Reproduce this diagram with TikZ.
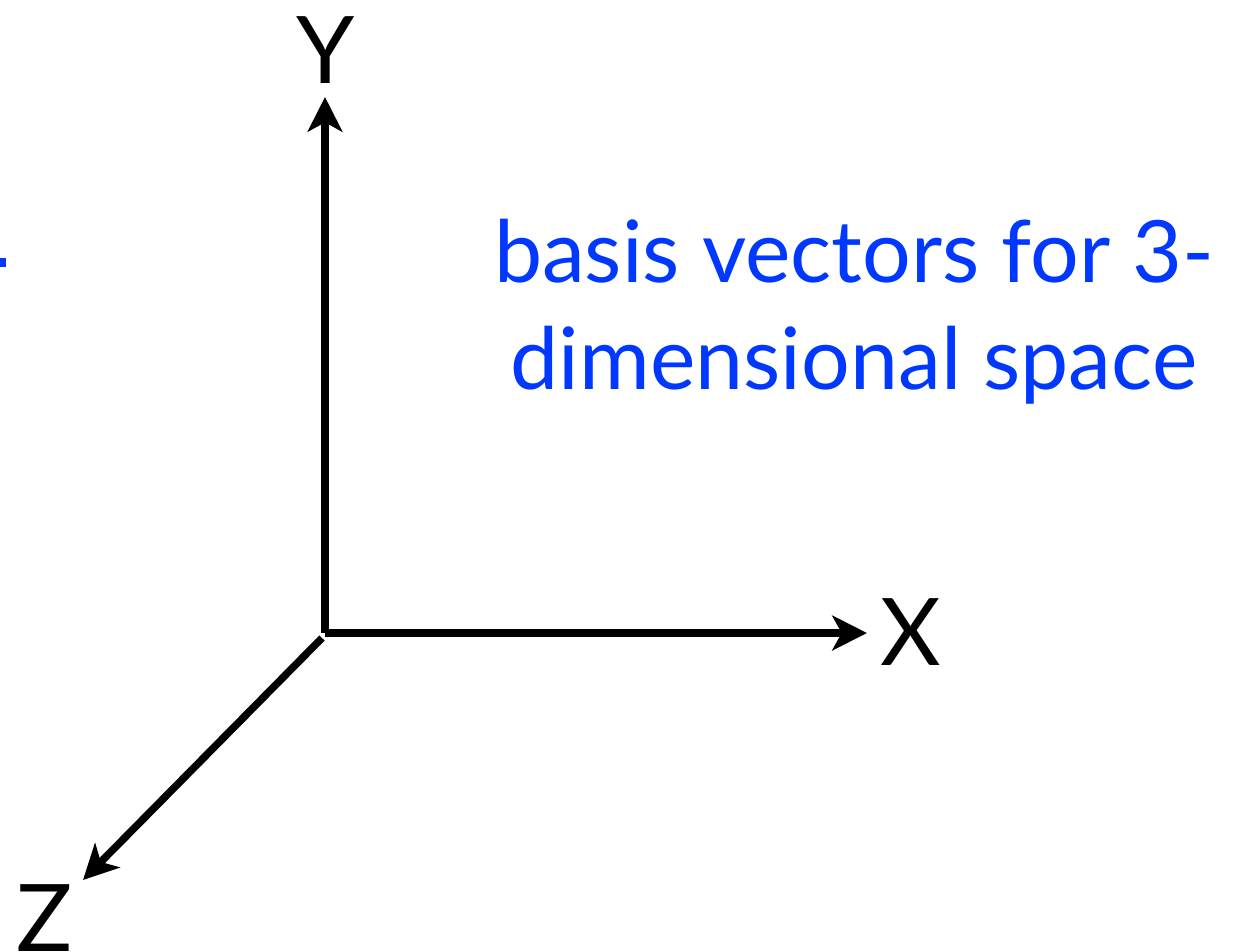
\documentclass[tikz,border=0pt]{standalone}
\usepackage{fontspec}
\setmainfont{Lato}
\usetikzlibrary{arrows.meta}
\definecolor{basisblue}{RGB}{0,56,255}
\begin{document}
\begin{tikzpicture}[x=0.75pt,y=-0.75pt,
  axis/.style={line width=5.6pt,-{Stealth[length=26pt,width=26pt,inset=7pt]}},
  axislabel/.style={font=\fontsize{70}{70}\selectfont,inner sep=0pt},
  bluetext/.style={text=basisblue,font=\fontsize{64.5}{64.5}\selectfont,inner sep=0pt,anchor=base}]
\path[use as bounding box] (0,0) rectangle (1241,951);
\coordinate (O) at (325,633);
\coordinate (Zstart) at (322,638);
\coordinate (ytip) at (325,97);
\coordinate (xtip) at (867,633);
\coordinate (ztip) at (83,880);
\draw[axis] (O) -- (ytip);
\draw[axis] (O) -- (xtip);
\draw[axis] (Zstart) -- (ztip);
\node[axislabel] (Y) at (326,50) {Y};
\node[axislabel] (X) at (911,632) {X};
\node[axislabel] (Z) at (45,918) {Z};
\node[bluetext] (t1) at (854,282) {basis vectors for 3-};
\node[bluetext] (t2) at (854,389) {dimensional space};
\fill[basisblue] (0,258) rectangle (6,267);
\end{tikzpicture}
\end{document}
